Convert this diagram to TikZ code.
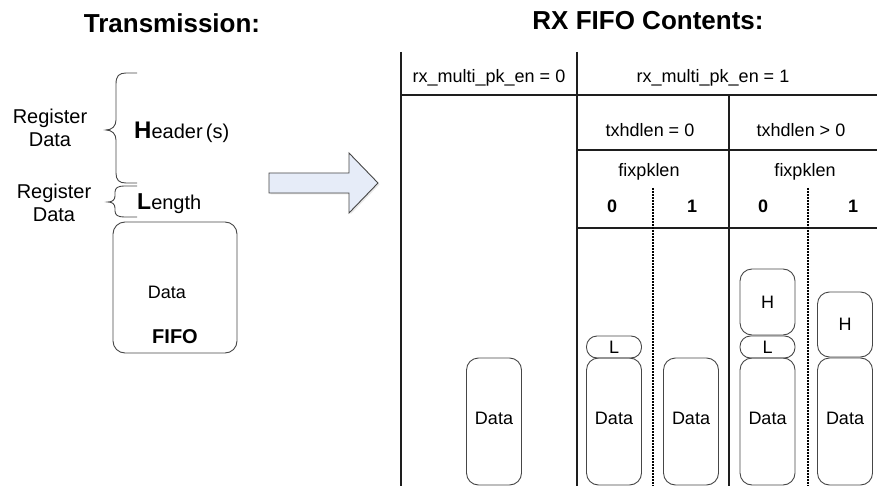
\documentclass[tikz,border=0pt]{standalone}
\usepackage{fontspec}
\setmainfont{Liberation Sans}
\definecolor{arrowfill}{RGB}{230,236,248}
\definecolor{linegray}{RGB}{30,30,30}
\definecolor{boxgray}{RGB}{70,70,70}
\begin{document}
\begin{tikzpicture}[x=1pt,y=-1pt,
  title/.style={font=\fontsize{26}{28}\selectfont\bfseries, inner sep=0pt},
  lbl/.style={font=\fontsize{18}{20}\selectfont, inner sep=0pt},
  bld/.style={font=\fontsize{18}{20}\selectfont\bfseries, inner sep=0pt},
  reg/.style={font=\fontsize{20}{23}\selectfont, inner sep=0pt, align=center},
  tline/.style={line width=1.5pt, draw=linegray},
  dline/.style={line width=2.2pt, draw=black, dash pattern=on 2pt off 1pt},
  rbox/.style={draw=boxgray, line width=0.9pt, rounded corners=12pt, minimum width=55pt, inner sep=0pt, font=\fontsize{18}{20}\selectfont},
  lbox/.style={rbox, rounded corners=10.5pt, minimum height=22pt},
  databox/.style={rbox, minimum height=127pt, text depth=6pt},
  brace/.style={line width=0.9pt, draw=boxgray}
]
\useasboundingbox (0,0) rectangle (877,486);

% titles
\node[title, anchor=base] (t1) at (172,33) {Transmission:};
\node[title, anchor=base] (t2) at (648,30) {RX FIFO Contents:};

% left: transmission
\node[reg] (r1) at (50,128) {Register\\Data};
\node[reg] (r2) at (54,203) {Register\\Data};
\node[anchor=base west, inner sep=0pt, font=\fontsize{20}{22}\selectfont] (hdr) at (134,139) {{\fontsize{24}{24}\selectfont\bfseries H}eader\,(s)};
\node[anchor=base west, inner sep=0pt, font=\fontsize{20}{22}\selectfont] (len) at (137,210) {{\fontsize{23}{24}\selectfont\bfseries L}ength};

\draw[brace] (137,73) -- (126,73) .. controls (119,73) and (116,76) .. (116,84) -- (116,120)
  .. controls (116,126) and (112,130) .. (106,130) .. controls (112,130) and (116,134) .. (116,140)
  -- (116,173) .. controls (116,180) and (119,183) .. (126,183) -- (137,183);
\draw[brace] (137,186) -- (124,186) .. controls (118,186) and (115,188) .. (115,192) -- (115,196)
  .. controls (115,200) and (112,202) .. (108,202) .. controls (112,202) and (115,204) .. (115,208)
  -- (115,211) .. controls (115,215) and (118,217) .. (124,217) -- (137,217);

\node[rbox, minimum width=124pt, minimum height=131pt] (fifo) at (175,287.5) {};
\node[lbl, anchor=base] (fdata) at (167,298) {Data};
\node[anchor=base, inner sep=0pt, font=\fontsize{20}{22}\selectfont\bfseries] (ffifo) at (175,343) {FIFO};

% arrow (with faint shadow)
\fill[black!9] (270.5,174.5) -- (350.5,174.5) -- (350.5,154.5) -- (379.5,184.5) -- (350.5,214.5) -- (350.5,194.5) -- (270.5,194.5) -- cycle;
\draw[draw=boxgray, line width=0.9pt, fill=arrowfill, line join=miter]
  (269,173) -- (349,173) -- (349,153) -- (378,183) -- (349,213) -- (349,193) -- (269,193) -- cycle;

% table lines
\draw[tline] (401,52) -- (401,486);
\draw[tline] (577,52) -- (577,486);
\draw[tline] (401,95) -- (877,95);
\draw[tline] (729,95) -- (729,486);
\draw[tline] (577,150) -- (877,150);
\draw[tline] (577,228) -- (877,228);
\draw[dline] (653,188) -- (653,486);
\draw[dline] (808,188) -- (808,486);

% table text
\node[lbl, anchor=base] (m0) at (489,83) {rx\_multi\_pk\_en = 0};
\node[lbl, anchor=base] (m1) at (713,83) {rx\_multi\_pk\_en = 1};
\node[lbl, anchor=base] (tx0) at (650,137) {txhdlen = 0};
\node[lbl, anchor=base] (tx1) at (801,137) {txhdlen > 0};
\node[lbl, anchor=base] (fx0) at (649,177) {fixpklen};
\node[lbl, anchor=base] (fx1) at (805,177) {fixpklen};
\node[bld, anchor=base] (b00) at (612,213) {0};
\node[bld, anchor=base] (b01) at (692,213) {1};
\node[bld, anchor=base] (b10) at (763,213) {0};
\node[bld, anchor=base] (b11) at (853,213) {1};

% FIFO contents
\node[databox] (d0) at (494,421.5) {Data};
\node[databox] (d1) at (614,421.5) {Data};
\node[lbox] (l1) at (614,347) {L};
\node[databox] (d2) at (691,421.5) {Data};
\node[databox] (d3) at (767.5,421.5) {Data};
\node[lbox] (l3) at (767.5,347) {L};
\node[rbox, minimum height=66pt] (h3) at (767.5,302) {H};
\node[databox] (d4) at (845,421.5) {Data};
\node[rbox, minimum height=65pt] (h4) at (845,324.5) {H};
\end{tikzpicture}
\end{document}
